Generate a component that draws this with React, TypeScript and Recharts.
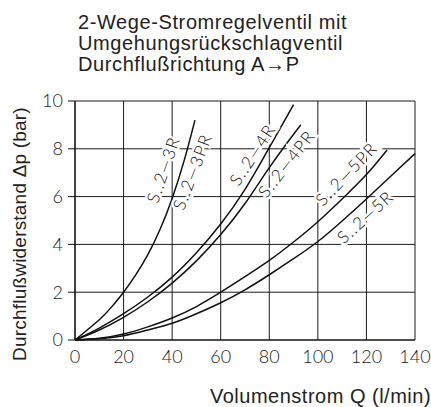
import React from 'react';
import { LineChart, Line, XAxis, YAxis, CartesianGrid, ReferenceDot } from 'recharts';

// Volumenstrom Q (l/min) / Durchflusswiderstand (bar)
const q3R = [0, 10, 15, 20, 25, 30, 35, 40, 45, 49.4];
const dp3R = [0, 0.85, 1.375, 2.0, 2.725, 3.575, 4.625, 5.925, 7.525, 9.2];

const q4R = [0, 10, 20, 30, 40, 50, 60, 70, 80, 90];
const dp4R = [0, 0.5, 1.1, 1.8, 2.63, 3.65, 4.85, 6.3, 8.05, 9.85];

const q4PR = [0, 10, 20, 30, 40, 50, 60, 70, 80, 90, 93];
const dp4PR = [0, 0.42, 0.95, 1.6, 2.38, 3.31, 4.41, 5.71, 7.21, 8.61, 9.0];

const q5PR = [0, 10, 20, 30, 40, 50, 60, 70, 80, 90, 100, 110, 120, 128.5];
const dp5PR = [0, 0.07, 0.25, 0.55, 0.92, 1.4, 2.0, 2.65, 3.33, 4.1, 4.95, 5.9, 6.92, 7.95];

const q5R = [0, 10, 20, 30, 40, 50, 60, 70, 80, 90, 100, 110, 120, 130, 140];
const dp5R = [0, 0.05, 0.18, 0.42, 0.7, 1.1, 1.56, 2.1, 2.73, 3.4, 4.12, 4.98, 5.9, 6.85, 7.8];

const xTicks = [0, 20, 40, 60, 80, 100, 120, 140];
const yTicks = [0, 2, 4, 6, 8, 10];

// curve labels: text, anchor (Q, dp), rotation
const labelText = ['S..2—3R', 'S..2—3PR', 'S..2—4R', 'S..2—4PR', 'S..2—5PR', 'S..2—5R'];
const labelQ = [36.2, 48.2, 72.9, 86.9, 111.6, 119.4];
const labelDp = [7.13, 7.04, 7.76, 7.38, 6.96, 5.16];
const labelAngle = [-71, -69, -57, -52, -46, -42];

const titleLines = ['2-Wege-Stromregelventil mit', 'Umgehungsrückschlagventil', 'Durchflußrichtung A→P'];

const toPoints = (qs: number[], dps: number[]) => qs.map((q, i) => ({ q, dp: dps[i] }));

const series = [
  toPoints(q3R, dp3R),
  toPoints(q4R, dp4R),
  toPoints(q4PR, dp4PR),
  toPoints(q5PR, dp5PR),
  toPoints(q5R, dp5R),
];

const lightFont = 'Lato, "Liberation Sans", sans-serif';
const tickFont = { fontFamily: lightFont, fontWeight: 300, fontSize: 18, fill: '#222' };
const textFont = '"Liberation Sans", Arial, sans-serif';

const CurveLabel = (props: any) => {
  const { cx, cy, text, angle } = props;
  if (cx == null || cy == null) return null;
  return (
    <text
      transform={`translate(${cx},${cy}) rotate(${angle})`}
      textAnchor="middle"
      dominantBaseline="central"
      fontFamily={lightFont}
      fontWeight={300}
      fontSize={17}
      letterSpacing={1.2}
      fill="#111"
      stroke="#fff"
      strokeWidth={5}
      paintOrder="stroke"
    >
      {text}
    </text>
  );
};

export default function App() {
  return (
    <div style={{ position: 'absolute', left: 0, top: 0, width: 431, height: 407, overflow: 'hidden', background: '#fff' }}>
      <LineChart width={431} height={407} margin={{ top: 101, right: 16, bottom: 27, left: 0 }}>
        <CartesianGrid stroke="#1a1a1a" strokeWidth={1} />
        <XAxis
          type="number"
          dataKey="q"
          domain={[0, 140]}
          ticks={xTicks}
          height={40}
          tickLine={false}
          tickSize={8}
          tickMargin={2}
          axisLine={{ stroke: '#111', strokeWidth: 1.2 }}
          tick={tickFont}
          interval={0}
        />
        <YAxis
          type="number"
          domain={[0, 10]}
          ticks={yTicks}
          width={75}
          tickSize={7}
          tickMargin={5}
          tickLine={{ stroke: '#111' }}
          axisLine={{ stroke: '#111', strokeWidth: 1.2 }}
          tick={tickFont}
          interval={0}
        />
        {series.map((d, i) => (
          <Line
            key={i}
            data={d}
            dataKey="dp"
            type="natural"
            stroke="#111"
            strokeWidth={1.5}
            dot={false}
            isAnimationActive={false}
          />
        ))}
        {labelText.map((t, i) => (
          <ReferenceDot
            key={t}
            x={labelQ[i]}
            y={labelDp[i]}
            r={0}
            shape={(p: any) => <CurveLabel {...p} text={t} angle={labelAngle[i]} />}
          />
        ))}
      </LineChart>
      <svg width={431} height={407} style={{ position: 'absolute', left: 0, top: 0, pointerEvents: 'none' }}>
        {titleLines.map((line, i) => (
          <text key={i} x={78} y={29 + i * 21} fontFamily={textFont} fontSize={20} letterSpacing={0.6} fill="#222">
            {line}
          </text>
        ))}
        <text
          transform="translate(26,234) rotate(-90)"
          textAnchor="middle"
          fontFamily={textFont}
          fontSize={19}
          letterSpacing={0.2}
          fill="#222"
        >
          Durchflußwiderstand Δp (bar)
        </text>
        <text x={210} y={403} fontFamily={textFont} fontSize={20} letterSpacing={0.5} fill="#222">
          Volumenstrom Q (l/min)
        </text>
      </svg>
    </div>
  );
}
